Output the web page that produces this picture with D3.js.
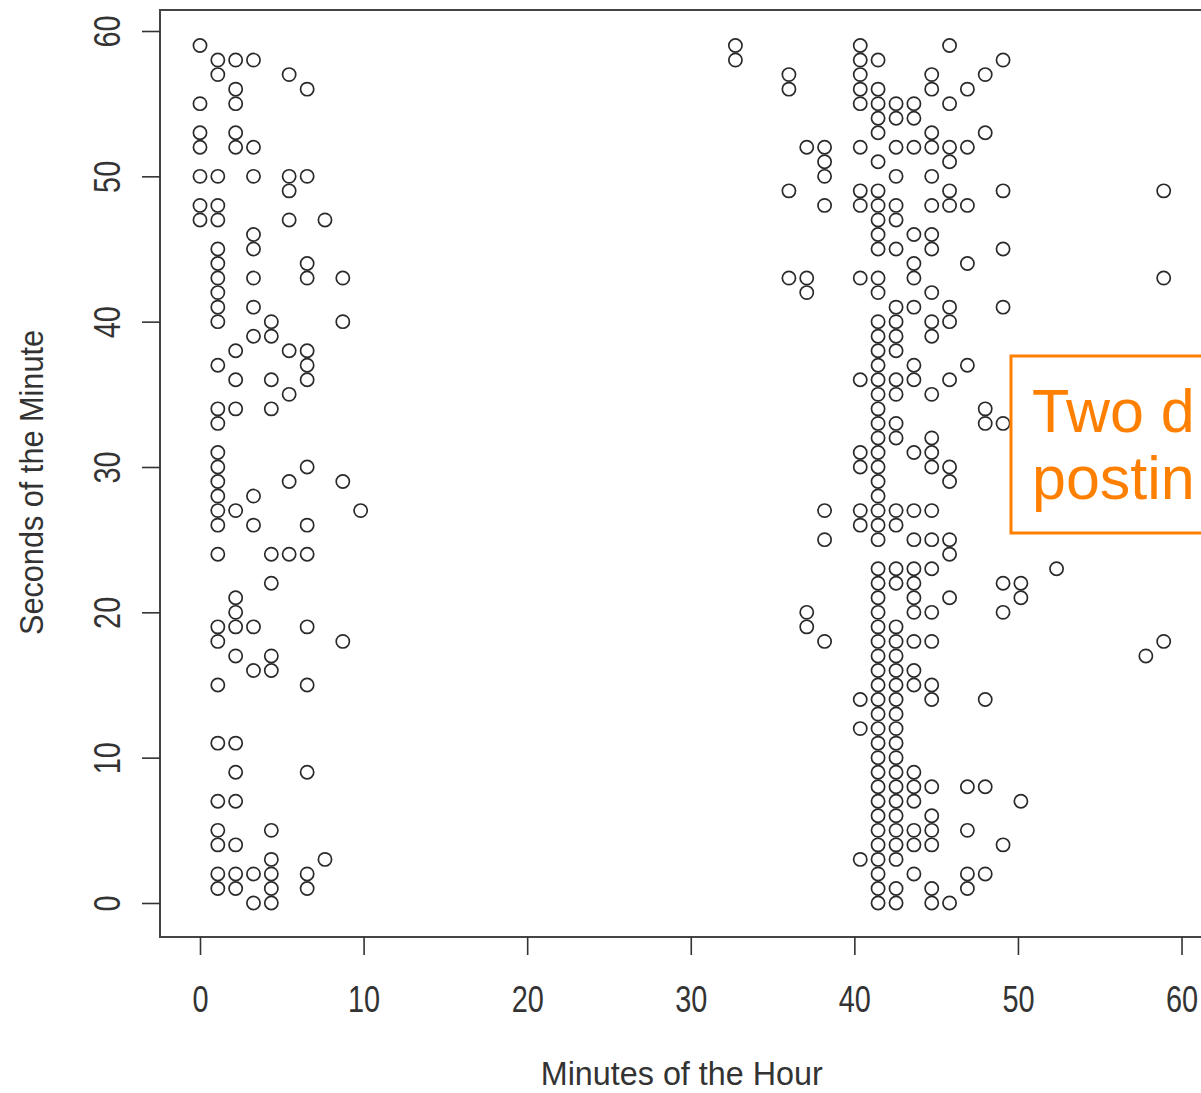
<!DOCTYPE html>
<html>
<head>
<meta charset="utf-8">
<script src="https://cdn.jsdelivr.net/npm/d3@7"></script>
<style>
  html, body { margin: 0; padding: 0; background: #fff; overflow: hidden; }
  svg { display: block; }
</style>
</head>
<body>
<script>
// ---- data ----
const minuteColumns = [0, 1.09, 2.18, 3.27, 4.36, 5.45, 6.55, 7.64, 8.73, 9.82,
  32.73, 36, 37.09, 38.18, 40.36, 41.45, 42.55, 43.64, 44.73, 45.82, 46.91, 48, 49.09, 50.18, 52.36, 57.82, 58.91];

const secondsPerColumn = [
  [59, 55, 53, 52, 50, 48, 47],
  [58, 57, 50, 48, 47, 45, 44, 43, 42, 41, 40, 37, 34, 33, 31, 30, 29, 28, 27, 26, 24, 19, 18, 15, 11, 7, 5, 4, 2, 1],
  [58, 56, 55, 53, 52, 38, 36, 34, 27, 21, 20, 19, 17, 11, 9, 7, 4, 2, 1],
  [58, 52, 50, 46, 45, 43, 41, 39, 28, 26, 19, 16, 2, 0],
  [40, 39, 36, 34, 24, 22, 17, 16, 5, 3, 2, 1, 0],
  [57, 50, 49, 47, 38, 35, 29, 24],
  [56, 50, 44, 43, 38, 37, 36, 30, 26, 24, 19, 15, 9, 2, 1],
  [47, 3],
  [43, 40, 29, 18],
  [27],
  [59, 58],
  [57, 56, 49, 43],
  [52, 43, 42, 20, 19],
  [52, 51, 50, 48, 27, 25, 18],
  [59, 58, 57, 56, 55, 52, 49, 48, 43, 36, 31, 30, 27, 26, 14, 12, 3],
  [58, 56, 55, 54, 53, 51, 49, 48, 47, 46, 45, 43, 42, 40, 39, 38, 37, 36, 35, 34, 33, 32, 31, 30, 29, 28, 27, 26, 25, 23, 22, 21, 20, 19, 18, 17, 16, 15, 14, 13, 12, 11, 10, 9, 8, 7, 6, 5, 4, 3, 2, 1, 0],
  [55, 54, 52, 50, 48, 47, 45, 41, 40, 39, 38, 36, 35, 33, 32, 27, 26, 23, 22, 19, 18, 17, 16, 15, 14, 13, 12, 11, 10, 9, 8, 7, 6, 5, 4, 3, 1, 0],
  [55, 54, 52, 46, 44, 43, 41, 37, 36, 31, 27, 25, 23, 22, 21, 20, 18, 16, 15, 9, 8, 7, 5, 4, 2],
  [57, 56, 53, 52, 50, 48, 46, 45, 42, 40, 39, 35, 32, 31, 30, 27, 25, 23, 20, 18, 15, 14, 8, 6, 5, 4, 1, 0],
  [59, 55, 52, 51, 49, 48, 41, 40, 36, 30, 29, 25, 24, 21, 0],
  [56, 52, 48, 44, 37, 8, 5, 2, 1],
  [57, 53, 34, 33, 14, 8, 2],
  [58, 49, 45, 41, 33, 22, 20, 4],
  [22, 21, 7],
  [23],
  [17],
  [49, 43, 18]
];

const xTicks = [0, 10, 20, 30, 40, 50, 60];
const yTicks = [0, 10, 20, 30, 40, 50, 60];
const xTitle = "Minutes of the Hour";
const yTitle = "Seconds of the Minute";
const noteLines = ["Two d", "postin"];

// ---- drawing ----
const W = 1201, H = 1093;
const plot = { left: 160, right: 1201, top: 10, bottom: 937 };
const axisFont = '"Liberation Sans", Arial, Helvetica, sans-serif';

const svg = d3.select("body").append("svg").attr("width", W).attr("height", H);

const x = d3.scaleLinear().domain([-2.445, 61.19]).range([plot.left, plot.right]);
const y = d3.scaleLinear().domain([-2.34, 61.445]).range([plot.bottom, plot.top]);

// points
const points = [];
minuteColumns.forEach((m, i) => secondsPerColumn[i].forEach(s => points.push({ m, s })));

svg.append("g").selectAll("circle").data(points).join("circle")
  .attr("cx", d => x(d.m)).attr("cy", d => y(d.s)).attr("r", 6.6)
  .attr("fill", "none").attr("stroke", "#2a2a2a").attr("stroke-width", 1.7);

// frame
svg.append("rect")
  .attr("x", plot.left).attr("y", plot.top)
  .attr("width", plot.right - plot.left + 4).attr("height", plot.bottom - plot.top)
  .attr("fill", "none").attr("stroke", "#444").attr("stroke-width", 2);

// axes (narrow, tall digits like the reference)
const fs = 37;
const squeeze = 0.78;
const xAxis = svg.append("g").attr("transform", `translate(0,${plot.bottom})`)
  .call(d3.axisBottom(x).tickValues(xTicks).tickSize(18).tickPadding(31).tickSizeOuter(0));
xAxis.select(".domain").remove();
xAxis.selectAll("line").attr("stroke", "#333").attr("stroke-width", 1.6);
xAxis.selectAll("text")
  .style("font-family", axisFont).style("font-size", fs + "px").attr("fill", "#333")
  .attr("transform", `scale(${squeeze},1)`);

const yAxis = svg.append("g").attr("transform", `translate(${plot.left},0)`)
  .call(d3.axisLeft(y).tickValues(yTicks).tickSize(18).tickSizeOuter(0));
yAxis.select(".domain").remove();
yAxis.selectAll("line").attr("stroke", "#333").attr("stroke-width", 1.6);
yAxis.selectAll("text")
  .style("font-family", axisFont).style("font-size", fs + "px").attr("fill", "#333")
  .attr("x", null).attr("dy", null)
  .attr("text-anchor", "middle")
  .attr("transform", `translate(-40,0) rotate(-90) scale(${squeeze},1)`)
  .attr("y", 0);

// titles
svg.append("text")
  .attr("x", (x(0) + x(60)) / 2 - 9).attr("y", 1085)
  .attr("text-anchor", "middle").attr("fill", "#333")
  .attr("textLength", 282).attr("lengthAdjust", "spacingAndGlyphs")
  .style("font-family", axisFont).style("font-size", "33px")
  .text(xTitle);

svg.append("text")
  .attr("transform", `translate(43,${(plot.top + plot.bottom) / 2 + 9}) rotate(-90)`)
  .attr("text-anchor", "middle").attr("fill", "#333")
  .attr("textLength", 305).attr("lengthAdjust", "spacingAndGlyphs")
  .style("font-family", axisFont).style("font-size", "34px")
  .text(yTitle);

// annotation box
const note = svg.append("g");
note.append("rect")
  .attr("x", 1011).attr("y", 356).attr("width", 220).attr("height", 177)
  .attr("fill", "#fff").attr("stroke", "#FF8000").attr("stroke-width", 3);
note.selectAll("text").data(noteLines).join("text")
  .attr("x", 1032).attr("y", (d, i) => 432 + i * 67)
  .attr("fill", "#FF8000")
  .style("font-family", axisFont).style("font-size", "61px")
  .text(d => d);
</script>
</body>
</html>
